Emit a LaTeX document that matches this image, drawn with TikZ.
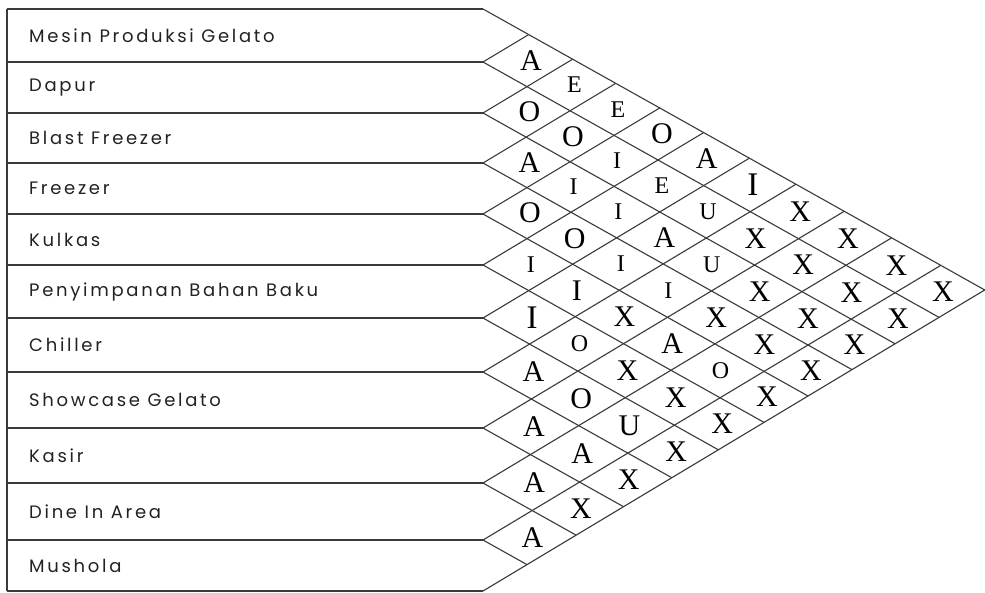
\documentclass[tikz,border=0pt]{standalone}
\usepackage{fontspec}
\setmainfont{Liberation Serif}
\newfontfamily\labfont{Poppins}[LetterSpace=15]
\usetikzlibrary{calc}
\definecolor{linec}{HTML}{3A3A3A}
\definecolor{textc}{HTML}{222222}
\tikzset{
  boxline/.style={draw=linec, line width=1.4pt},
  gridline/.style={draw=linec, line width=1.1pt},
  rowlabel/.style={anchor=west, inner sep=0pt, text=textc, font=\labfont\fontsize{18}{20}\selectfont},
  rel/.style={inner sep=0pt, text=black, font=\fontsize{30}{30}\selectfont},
  relsmall/.style={inner sep=0pt, text=black, font=\fontsize{24}{24}\selectfont},
  relbig/.style={inner sep=0pt, text=black, font=\fontsize{33}{33}\selectfont},
}
\begin{document}
\begin{tikzpicture}[x=1pt,y=-1pt]
\useasboundingbox (0,0) rectangle (985,592);
\def\ylist{{9,62,113,163,214,265,318,372,428,483,540,591}}
% lattice points
\foreach \a in {0,...,11}{
  \foreach \b in {\a,...,11}{
    \pgfmathsetmacro\ya{\ylist[\a]}
    \pgfmathsetmacro\yb{\ylist[\b]}
    \pgfmathsetmacro\tt{(\yb-\ya)/1.16}
    \coordinate (V-\a-\b) at ({483+\tt},{\ya+0.56*\tt});
  }
  \pgfmathsetmacro\ya{\ylist[\a]}
  \coordinate (L-\a) at (7,\ya);
}
% row boxes
\draw[boxline] (L-0) -- (L-11);
\foreach \k in {0,...,11}{ \draw[boxline] (L-\k) -- (V-\k-\k); }
% diagonal grid
\foreach \a in {0,...,10}{ \draw[gridline] (V-\a-\a) -- (V-\a-11); }
\foreach \b in {1,...,11}{ \draw[gridline] (V-\b-\b) -- (V-0-\b); }
% row labels
\foreach \i/\txt in {1/Mesin Produksi Gelato,2/Dapur,3/Blast Freezer,4/Freezer,5/Kulkas,6/Penyimpanan Bahan Baku,7/Chiller,8/Showcase Gelato,9/Kasir,10/Dine In Area,11/Mushola}{
  \pgfmathtruncatemacro\prev{\i-1}
  \node[rowlabel] (row-\i) at ($(L-\prev)!0.5!(L-\i)+(22,0)$) {\txt};
}
% relationship letters
\foreach \i/\j/\l/\s in {
 1/2/A/rel, 1/3/E/relsmall, 1/4/E/relsmall, 1/5/O/rel, 1/6/A/rel, 1/7/I/relbig, 1/8/X/rel, 1/9/X/rel, 1/10/X/rel, 1/11/X/rel,
 2/3/O/rel, 2/4/O/rel, 2/5/I/relsmall, 2/6/E/relsmall, 2/7/U/relsmall, 2/8/X/rel, 2/9/X/rel, 2/10/X/rel, 2/11/X/rel,
 3/4/A/rel, 3/5/I/relsmall, 3/6/I/relsmall, 3/7/A/rel, 3/8/U/relsmall, 3/9/X/rel, 3/10/X/rel, 3/11/X/rel,
 4/5/O/rel, 4/6/O/rel, 4/7/I/relsmall, 4/8/I/relsmall, 4/9/X/rel, 4/10/X/rel, 4/11/X/rel,
 5/6/I/relsmall, 5/7/I/rel, 5/8/X/rel, 5/9/A/rel, 5/10/O/relsmall, 5/11/X/rel,
 6/7/I/relbig, 6/8/O/relsmall, 6/9/X/rel, 6/10/X/rel, 6/11/X/rel,
 7/8/A/rel, 7/9/O/rel, 7/10/U/rel, 7/11/X/rel,
 8/9/A/rel, 8/10/A/rel, 8/11/X/rel,
 9/10/A/rel, 9/11/X/rel,
 10/11/A/rel}{
  \pgfmathtruncatemacro\ii{\i-1}
  \pgfmathtruncatemacro\jj{\j-1}
  \node[\s] (r-\i-\j) at ($(V-\ii-\jj)!0.5!(V-\i-\j)+(3,0)$) {\l};
}
\end{tikzpicture}
\end{document}
